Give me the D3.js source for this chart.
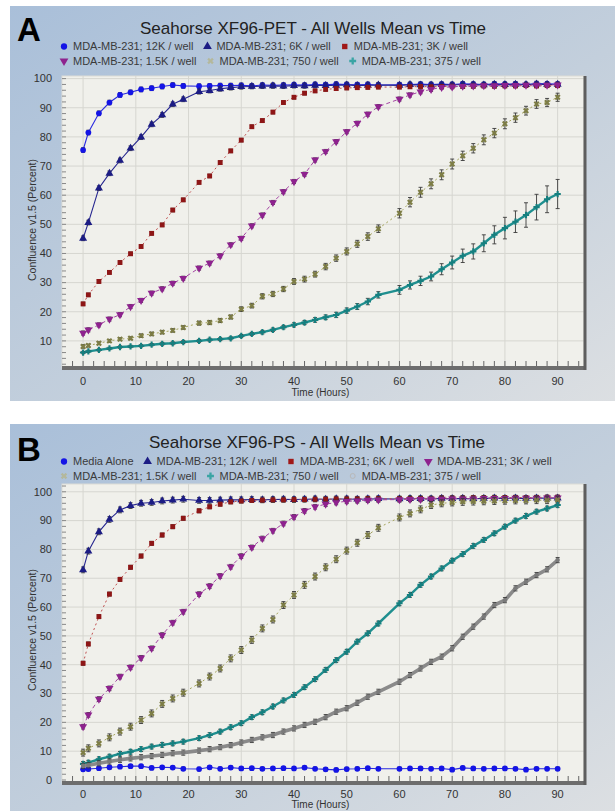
<!DOCTYPE html>
<html>
<head>
<meta charset="utf-8">
<script src="https://cdn.jsdelivr.net/npm/d3@7"></script>
<style>
body { margin: 0; background: #fff; }
svg text { font-family: "Liberation Sans", Arial, sans-serif; }
</style>
</head>
<body>
<svg id="fig" width="615" height="811"></svg>
<script>
// scan times (hours), shared by every well group
const hours = [0,1,3,5,7,9,11,13,15,17,19,22,24,26,28,30,32,34,36,38,40,42,44,46,48,50,52,54,56,
    60,62,64,66,68,70,72,74,76,78,80,82,84,86,88,90]

const xTicks = [0,10,20,30,40,50,60,70,80,90]
const petYTicks = [10,20,30,40,50,60,70,80,90,100]
const psYTicks = [0,10,20,30,40,50,60,70,80,90,100]

// panel A : XF96-PET
const petLabels = ["MDA-MB-231; 12K / well", "MDA-MB-231; 6K / well", "MDA-MB-231; 3K / well",
    "MDA-MB-231; 1.5K / well", "MDA-MB-231; 750 / well", "MDA-MB-231; 375 / well"]
const pet12K = [75.5,81.5,88.1,91.8,94.4,95.3,96.3,96.7,97.3,97.8,97.5,97.4,97.5,97.6,97.6,97.7,97.5,97.8,97.7,97.8,
    97.9,97.8,98.0,97.9,98.1,98.0,97.9,98.0,97.8,97.9,98.0,98.1,98.0,98.1,98.0,98.2,98.1,98.0,98.2,98.1,98.2,98.0,98.3,98.2,98.1]
const pet6K = [45.2,50.6,62.4,67.5,71.9,76.1,79.9,84.3,87.5,91.2,92.9,95.5,95.9,96.5,96.9,97.2,97.3,97.4,97.5,97.4,
    97.6,97.5,97.7,97.6,97.7,97.8,97.6,97.7,97.8,97.7,97.9,97.8,97.8,97.9,97.8,98.0,97.9,97.8,98.0,97.9,98.0,97.9,98.1,98.0,98.0]
const pet3K = [22.7,25.8,30.4,33.5,36.9,39.9,42.4,46.9,49.8,54.9,58.4,64.4,66.6,71.2,75.2,78.9,83.5,85.6,88.5,91.8,
    93.6,95.0,95.8,96.3,96.6,96.8,96.9,97.0,97.1,97.1,97.2,97.3,97.2,97.3,97.4,97.3,97.4,97.5,97.4,97.5,97.5,97.6,97.5,97.6,97.6]
const pet1500 = [12.7,13.8,15.5,17.5,19.0,21.8,23.9,26.4,27.9,29.8,31.5,35.0,36.7,39.2,43.0,45.2,49.5,53.2,57.5,61.2,
    64.7,67.2,72.1,75.0,78.4,81.8,84.7,87.8,90.4,93.0,94.4,95.5,96.3,97.0,97.2,97.4,97.5,97.6,97.6,97.7,97.7,97.8,97.8,97.8,97.9]
const pet750 = [8.1,8.4,9.2,10.0,10.6,10.9,11.8,12.4,13.0,13.6,14.6,16.1,16.3,17.0,18.2,20.9,22.1,25.3,26.1,27.8,
    30.4,31.2,32.9,35.5,38.4,40.7,43.3,45.8,48.5,53.8,57.6,61.0,63.9,67.0,70.7,73.5,76.1,79.0,81.3,84.5,86.6,89.0,91.3,91.8,93.6]
const pet375 = [6.0,6.4,6.9,7.4,7.9,8.1,8.3,8.7,9.0,9.2,9.6,10.0,10.4,10.6,10.9,11.7,12.4,13.0,13.8,14.7,
    15.5,16.3,17.2,18.1,18.9,20.4,21.8,23.5,25.8,27.5,29.2,30.6,32.1,34.6,36.9,39.2,40.7,43.5,46.4,48.7,50.9,53.2,55.9,58.6,60.4]
const pet750Err = [0.6,0.5,0.5,0.5,0.5,0.5,0.6,0.6,0.6,0.6,0.6,0.7,0.7,0.7,0.7,0.8,0.8,0.9,0.9,0.9,
    1.0,1.0,1.0,1.1,1.1,1.2,1.2,1.3,1.3,1.6,1.6,1.7,1.7,1.7,1.7,1.6,1.6,1.7,1.6,1.7,1.6,1.5,1.5,1.4,1.4]
const pet375Err = [0.4,0.4,0.4,0.4,0.4,0.4,0.4,0.4,0.5,0.5,0.5,0.5,0.5,0.5,0.5,0.5,0.5,0.6,0.6,0.6,
    0.7,0.7,0.8,0.8,0.9,0.9,1.0,1.1,1.1,1.5,1.4,1.6,1.5,1.9,2.2,2.3,2.6,2.9,3.1,3.7,3.7,4.2,4.4,4.6,5.0]

// panel B : XF96-PS
const psLabels = ["Media Alone", "MDA-MB-231; 12K / well", "MDA-MB-231; 6K / well", "MDA-MB-231; 3K / well",
    "MDA-MB-231; 1.5K / well", "MDA-MB-231; 750 / well", "MDA-MB-231; 375 / well"]
const psMedia = [3.7,3.8,4.1,4.4,4.6,4.8,4.8,4.2,4.4,4.3,3.9,3.8,4.4,3.9,4.3,4.0,4.1,3.9,4.0,4.1,
    4.0,4.3,3.9,3.7,3.5,3.8,3.9,4.1,3.9,3.9,4.0,4.0,3.9,4.0,3.6,4.2,4.0,3.9,4.0,4.0,3.9,3.6,3.9,3.9,3.9]
const ps12K = [72.9,79.4,86.1,90.4,93.7,95.2,96.0,96.3,96.8,97.1,97.4,97.0,97.0,97.1,97.2,97.2,97.3,97.2,97.3,97.4,
    97.3,97.4,97.5,97.4,97.5,97.5,97.4,97.5,97.6,97.5,97.6,97.6,97.5,97.7,97.6,97.7,97.6,97.7,97.8,97.7,97.8,97.7,97.8,97.8,97.8]
const ps6K = [40.5,47.2,56.7,64.5,69.6,73.8,77.7,82.1,85.0,87.9,90.8,93.4,94.8,95.7,96.5,96.8,97.0,97.1,97.2,97.2,
    97.3,97.3,97.4,97.4,97.5,97.5,97.5,97.6,97.6,97.6,97.7,97.7,97.7,97.8,97.8,97.8,97.9,97.9,97.9,98.0,98.0,98.0,98.0,98.1,98.1]
const ps3K = [18.5,22.6,28.1,31.8,35.9,39.1,42.4,45.7,50.3,54.6,58.4,64.5,67.3,70.8,74.0,77.7,80.7,83.8,86.5,89.0,
    91.3,93.4,94.8,95.7,96.3,96.7,96.9,97.1,97.2,97.3,97.4,97.4,97.5,97.5,97.6,97.6,97.6,97.7,97.7,97.7,97.8,97.8,97.8,97.9,97.9]
const ps1500 = [9.5,11.0,12.7,14.8,16.8,18.5,20.8,23.1,26.4,28.3,30.3,33.5,35.9,38.7,42.2,45.1,48.6,52.6,55.7,60.7,
    64.2,67.7,70.6,73.8,76.6,79.6,82.3,85.0,87.5,91.1,92.5,93.9,95.4,96.0,96.3,96.5,96.6,96.7,96.8,96.9,97.0,97.0,97.1,97.1,97.2]
const ps750 = [5.6,6.0,7.2,8.1,9.1,9.8,10.7,11.6,12.2,12.7,13.3,14.5,15.6,16.8,18.3,19.7,21.8,23.5,25.5,27.6,
    29.5,32.2,35.0,38.2,41.6,44.5,48.0,50.9,54.3,61.3,64.2,67.7,70.6,73.4,76.1,78.4,81.2,83.3,85.6,87.9,90.0,91.6,93.1,94.2,95.4]
const ps375 = [4.9,5.1,5.8,6.4,7.0,7.5,7.9,8.3,8.7,9.3,9.5,10.2,10.7,11.4,12.1,13.0,13.9,14.8,15.6,16.8,
    17.9,19.1,20.2,21.8,23.7,24.9,26.8,28.9,30.6,34.1,36.4,38.7,41.0,42.8,45.7,49.7,53.2,56.7,60.7,62.4,66.5,68.8,71.1,73.1,76.3]
const psErr = [0.6, 1.0, 0.7, 0.8, 1.2, 0.8, 0.9]

// marker / line looks, one per well group
const looks = {
    blueCircle: {shape: d3.symbolCircle, size: 26, fill: "#1414e6", line: "#2a2ae0", lw: 1.1, dash: null, rot: 0, leg: "#1414e6"},
    navyTri:    {shape: d3.symbolTriangle, size: 28, fill: "#1c1c84", line: "#25258f", lw: 1.1, dash: null, rot: 0, leg: "#1c1c84"},
    redSq:      {shape: d3.symbolSquare, size: 24, fill: "#8e1616", line: "#c05050", lw: 1, dash: "2,3", rot: 0, leg: "#a01818"},
    magTri:     {shape: d3.symbolTriangle, size: 28, fill: "#8e228e", line: "#a444a4", lw: 1, dash: "4,3", rot: 180, leg: "#8e228e"},
    oliveX:     {shape: d3.symbolCross, size: 22, fill: "#7d7d45", line: "#a4a45c", lw: 1, dash: "2,3", rot: 45, leg: "#b4b89c"},
    tealPlus:   {shape: d3.symbolCross, size: 22, fill: "#157f7f", line: "#1f8f8f", lw: 2.4, dash: null, rot: 0, leg: "#3aa4a4"},
    grayRing:   {shape: d3.symbolCircle, size: 16, fill: "#7a7a7a", line: "#8a8a8a", lw: 3.6, dash: null, rot: 0, leg: "#b8b8b8", hollow: true}
}

let svg = d3.select("#fig")
let defs = svg.append("defs")
let grad = defs.append("linearGradient").attr("id", "bg")
    .attr("x1", 0).attr("y1", 0).attr("x2", 1).attr("y2", 1)
grad.append("stop").attr("offset", "0%").attr("stop-color", "#a9bfd9")
grad.append("stop").attr("offset", "55%").attr("stop-color", "#c3cfdc")
grad.append("stop").attr("offset", "100%").attr("stop-color", "#dcdfe2")

const drawPanel = p => {
    let g = svg.append("g")
    g.append("rect")
        .attr("x", p.bx).attr("y", p.by)
        .attr("width", p.bw).attr("height", p.bh)
        .attr("fill", "url(#bg)")

    let x = d3.scaleLinear().domain([-4, 95]).range([p.left, p.right])
    let y = d3.scaleLinear().domain(p.ydom).range([p.bottom, p.top])

    // plot area
    g.append("rect")
        .attr("x", p.left).attr("y", p.top)
        .attr("width", p.right - p.left).attr("height", p.bottom - p.top)
        .attr("fill", "#f0f0eb")
        .attr("stroke", "#dcdcd6")

    g.append("g").selectAll("line")
        .data(xTicks).enter().append("line")
        .attr("x1", d => x(d)).attr("x2", d => x(d))
        .attr("y1", p.top).attr("y2", p.bottom)
        .attr("stroke", "#d6d6d0")
    g.append("g").selectAll("line")
        .data(p.yticks.filter(d => d > 0)).enter().append("line")
        .attr("x1", p.left).attr("x2", p.right)
        .attr("y1", d => y(d)).attr("y2", d => y(d))
        .attr("stroke", "#d6d6d0")

    // minor ticks
    g.append("g").selectAll("line")
        .data(d3.range(-2, 95, 2)).enter().append("line")
        .attr("x1", d => x(d)).attr("x2", d => x(d))
        .attr("y1", p.bottom - 2).attr("y2", p.bottom - 7)
        .attr("stroke", "#666")
    g.append("g").selectAll("line")
        .data(d3.range(Math.ceil(p.ydom[0] / 2) * 2, p.ydom[1], 2)).enter().append("line")
        .attr("x1", p.left).attr("x2", p.left + 4)
        .attr("y1", d => y(d)).attr("y2", d => y(d))
        .attr("stroke", "#888")

    // frame: heavy bottom and right edges
    g.append("line")
        .attr("x1", p.left).attr("x2", p.right + 2)
        .attr("y1", p.bottom).attr("y2", p.bottom)
        .attr("stroke", "#6d6d6d").attr("stroke-width", 4)
    g.append("line")
        .attr("x1", p.right + 1).attr("x2", p.right + 1)
        .attr("y1", p.top).attr("y2", p.bottom + 2)
        .attr("stroke", "#5e5e5e").attr("stroke-width", 3)

    // data
    let clipId = "clip" + p.id
    defs.append("clipPath").attr("id", clipId)
        .append("rect")
        .attr("x", p.left).attr("y", p.top)
        .attr("width", p.right - p.left).attr("height", p.bottom - p.top - 2)
    let dg = g.append("g").attr("clip-path", "url(#" + clipId + ")")

    p.series.forEach(s => {
        let lk = looks[s.look]
        let pts = hours.map((h, i) => ({h: h, v: s.values[i], e: Array.isArray(s.err) ? s.err[i] : s.err}))
        let sg = dg.append("g")
        sg.append("path").datum(pts)
            .attr("d", d3.line().x(d => x(d.h)).y(d => y(d.v)))
            .attr("fill", "none")
            .attr("stroke", lk.line)
            .attr("stroke-width", lk.lw)
            .attr("stroke-dasharray", lk.dash)
        sg.selectAll(".eb").data(pts).enter()
            .append("path")
            .attr("class", "eb")
            .attr("d", d => {
                let cx = x(d.h), y1 = y(d.v + d.e), y2 = y(d.v - d.e)
                return `M${cx - 2},${y1}h4M${cx},${y1}V${y2}M${cx - 2},${y2}h4`
            })
            .attr("stroke", "#3a3a3a")
            .attr("stroke-width", 0.9)
            .attr("fill", "none")
        sg.selectAll(".mk").data(pts).enter()
            .append("path")
            .attr("class", "mk")
            .attr("transform", d => `translate(${x(d.h)},${y(d.v)}) rotate(${lk.rot})`)
            .attr("d", d3.symbol().type(lk.shape).size(lk.size))
            .attr("fill", lk.fill)
    })

    // axes text
    g.append("g").selectAll("text")
        .data(p.yticks).enter().append("text")
        .attr("x", p.left - 10).attr("y", d => y(d))
        .attr("dy", "0.35em")
        .attr("text-anchor", "end")
        .attr("font-size", 11)
        .attr("fill", "#333")
        .text(d => d)
    g.append("g").selectAll("text")
        .data(xTicks).enter().append("text")
        .attr("x", d => x(d)).attr("y", p.bottom + p.tickGap)
        .attr("text-anchor", "middle")
        .attr("font-size", 11)
        .attr("fill", "#333")
        .text(d => d)
    g.append("text")
        .attr("x", x(45)).attr("y", p.bottom + p.titleGap)
        .attr("text-anchor", "middle")
        .attr("font-size", 10)
        .attr("fill", "#333")
        .text("Time (Hours)")
    g.append("text")
        .attr("transform", `translate(36,${p.ylabY}) rotate(-90)`)
        .attr("text-anchor", "middle")
        .attr("font-size", 10.5)
        .attr("fill", "#333")
        .text("Confluence v1.5 (Percent)")

    // title, letter
    g.append("text")
        .attr("x", p.titleX).attr("y", p.titleY)
        .attr("text-anchor", "middle")
        .attr("font-size", 17)
        .attr("fill", "#222")
        .text(p.title)
    g.append("text")
        .attr("x", 17).attr("y", p.letterY)
        .attr("font-size", 33)
        .attr("font-weight", "bold")
        .attr("fill", "#000")
        .text(p.letter)

    // legend, flowing rows
    p.legendRows.forEach((row, r) => {
        let cx = 64
        row.forEach(k => {
            let s = p.series[k]
            let lk = looks[s.look]
            let ly = p.legendY + r * 14.5
            g.append("path")
                .attr("transform", `translate(${cx},${ly - 3.5}) rotate(${lk.rot})`)
                .attr("d", d3.symbol().type(lk.shape).size(lk.size * 1.2))
                .attr("fill", lk.hollow ? "none" : lk.leg)
                .attr("stroke", lk.hollow ? lk.leg : null)
            let t = g.append("text")
                .attr("x", cx + 9).attr("y", ly)
                .attr("font-size", 11)
                .attr("fill", "#3a3a3a")
                .text(s.label)
            cx += 9 + t.node().getComputedTextLength() + 14
        })
    })
}

drawPanel({
    id: "A", letter: "A", letterY: 41,
    title: "Seahorse XF96-PET - All Wells Mean vs Time", titleX: 313, titleY: 34,
    bx: 10, by: 6, bw: 605, bh: 395,
    left: 62, right: 584, top: 76, bottom: 368,
    ydom: [0.7, 100.9], yticks: petYTicks, ylabY: 220,
    tickGap: 17, titleGap: 28,
    legendY: 50, legendRows: [[0, 1, 2], [3, 4, 5]],
    series: [
        {label: petLabels[0], values: pet12K, err: 0.8, look: "blueCircle"},
        {label: petLabels[1], values: pet6K, err: 0.8, look: "navyTri"},
        {label: petLabels[2], values: pet3K, err: 0.6, look: "redSq"},
        {label: petLabels[3], values: pet1500, err: 0.7, look: "magTri"},
        {label: petLabels[4], values: pet750, err: pet750Err, look: "oliveX"},
        {label: petLabels[5], values: pet375, err: pet375Err, look: "tealPlus"}
    ]
})

drawPanel({
    id: "B", letter: "B", letterY: 461,
    title: "Seahorse XF96-PS - All Wells Mean vs Time", titleX: 317, titleY: 448,
    bx: 10, by: 424, bw: 605, bh: 387,
    left: 62, right: 584, top: 484, bottom: 783,
    ydom: [-1.04, 102.7], yticks: psYTicks, ylabY: 630,
    tickGap: 15, titleGap: 25,
    legendY: 465, legendRows: [[0, 1, 2, 3], [4, 5, 6]],
    series: [
        {label: psLabels[0], values: psMedia, err: psErr[0], look: "blueCircle"},
        {label: psLabels[1], values: ps12K, err: psErr[1], look: "navyTri"},
        {label: psLabels[2], values: ps6K, err: psErr[2], look: "redSq"},
        {label: psLabels[3], values: ps3K, err: psErr[3], look: "magTri"},
        {label: psLabels[4], values: ps1500, err: psErr[4], look: "oliveX"},
        {label: psLabels[5], values: ps750, err: psErr[5], look: "tealPlus"},
        {label: psLabels[6], values: ps375, err: psErr[6], look: "grayRing"}
    ]
})
</script>
</body>
</html>
